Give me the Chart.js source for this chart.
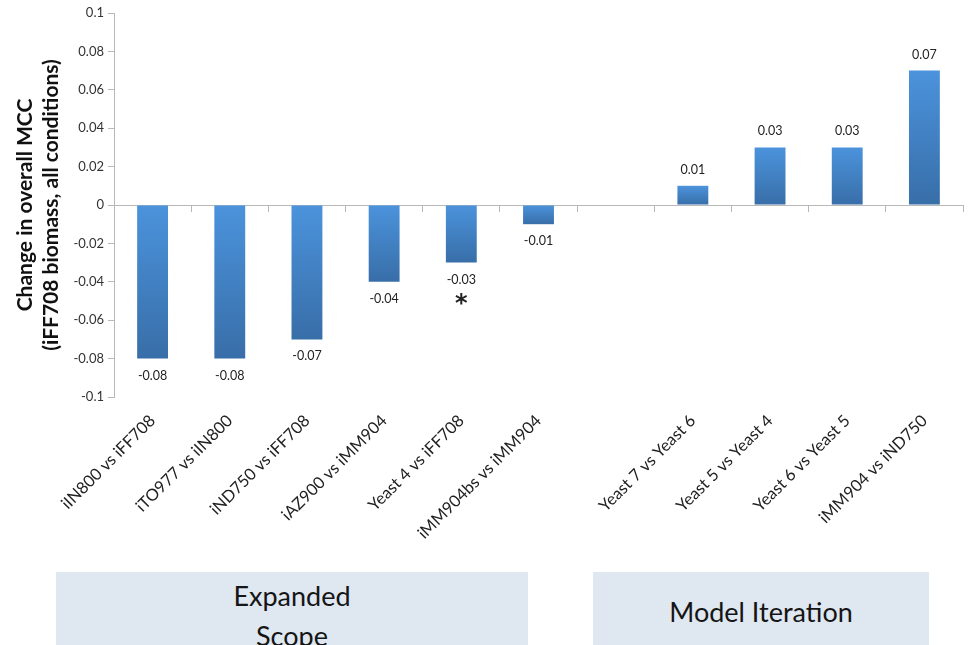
<!DOCTYPE html>
<html>
<head>
<meta charset="utf-8">
<title>Change in overall MCC</title>
<script src="https://cdn.jsdelivr.net/npm/chart.js@4/dist/chart.umd.min.js"></script>
<style>
    body { margin: 0; background: #fff; font-family: Lato, "Open Sans", sans-serif; }
    .wrap { position: relative; width: 968px; height: 645px; }
    .group-box {
        position: absolute;
        background: #dfe7f1;
        color: #151515;
        font-size: 27px;
        text-align: center;
        line-height: 40px;
    }
</style>
</head>
<body>
<div class="wrap">
    <canvas id="mcc-chart"></canvas>
    <div class="group-box" style="left:56px; top:572px; width:472px; height:73px; padding-top:4px; box-sizing:border-box;">Expanded<br>Scope</div>
    <div class="group-box" style="left:593px; top:572px; width:336px; height:73px; line-height:80px;">Model Iteration</div>
</div>
<script>
// Comparisons (empty slot separates the two groups)
const categories = [
    "iIN800 vs iFF708", "iTO977 vs iIN800", "iND750 vs iFF708", "iAZ900 vs iMM904",
    "Yeast 4 vs iFF708", "iMM904bs vs iMM904", "",
    "Yeast 7 vs Yeast 6", "Yeast 5 vs Yeast 4", "Yeast 6 vs Yeast 5", "iMM904 vs iND750"
];
const changeValues = [-0.08, -0.08, -0.07, -0.04, -0.03, -0.01, null, 0.01, 0.03, 0.03, 0.07];
const starredIndex = [4];
const yMin = -0.1;
const yMax = 0.1;
const yStep = 0.02;

function fmt(v) {
    return String(Number(v.toFixed(2)));
}

// value labels + asterisk
const barLabels = {
    id: 'barLabels',
    afterDatasetsDraw(chart) {
        const ctx = chart.ctx;
        const meta = chart.getDatasetMeta(0);
        ctx.save();
        ctx.fillStyle = '#222';
        ctx.textAlign = 'center';
        ctx.textBaseline = 'middle';
        meta.data.forEach((bar, i) => {
            const v = changeValues[i];
            if (v == null) return;
            ctx.font = '12.5px Lato, sans-serif';
            const y = v >= 0 ? bar.y - 16 : bar.y + 17;
            ctx.fillText(fmt(v), bar.x, y);
            if (starredIndex.includes(i)) {
                ctx.font = 'bold 24px "DejaVu Sans", sans-serif';
                ctx.fillText('*', bar.x, bar.y + 42);
            }
        });
        ctx.restore();
    }
};

function barGradient(context) {
    const chart = context.chart;
    const v = context.raw;
    const y = chart.scales.y;
    if (!y || v == null || context.type !== 'data') return '#4589cf';
    const top = y.getPixelForValue(Math.max(v, 0));
    const bottom = y.getPixelForValue(Math.min(v, 0));
    if (!isFinite(top) || !isFinite(bottom) || top === bottom) return '#4589cf';
    const g = chart.ctx.createLinearGradient(0, top, 0, bottom);
    g.addColorStop(0, '#4b93dc');
    g.addColorStop(1, '#386ea8');
    return g;
}

const axisGray = '#b8b8b8';

new Chart(document.getElementById('mcc-chart'), {
    type: 'bar',
    data: {
        labels: categories,
        datasets: [{
            data: changeValues,
            backgroundColor: barGradient,
            borderWidth: 0,
            barPercentage: 0.4,
            categoryPercentage: 1.0,
            xAxisID: 'x'
        }]
    },
    options: {
        responsive: true,
        maintainAspectRatio: false,
        animation: false,
        layout: { padding: { top: 13, right: 5, left: 0, bottom: 0 } },
        plugins: {
            legend: { display: false },
            tooltip: { enabled: false }
        },
        scales: {
            x: {
                type: 'category',
                position: 'bottom',
                offset: true,
                border: { display: false },
                grid: { display: false },
                ticks: {
                    autoSkip: false,
                    minRotation: 45,
                    maxRotation: 45,
                    padding: 6,
                    color: '#222',
                    font: { family: 'Lato', size: 16.5 }
                },
                afterFit(scale) { scale.height = 248; }
            },
            x2: {
                type: 'category',
                position: { y: 0 },
                offset: true,
                border: { display: true, color: axisGray, width: 1 },
                grid: { offset: true, drawOnChartArea: false, drawTicks: true, tickLength: 6, color: axisGray },
                ticks: { display: false }
            },
            y: {
                min: yMin,
                max: yMax,
                border: { display: true, color: axisGray, width: 1 },
                grid: { drawOnChartArea: false, drawTicks: true, tickLength: 6, color: axisGray },
                ticks: {
                    stepSize: yStep,
                    padding: 4,
                    color: '#333',
                    font: { family: 'Lato', size: 13 },
                    callback: (v) => fmt(v)
                },
                title: {
                    display: true,
                    text: ['Change in overall MCC', '(iFF708 biomass, all conditions)'],
                    color: '#111',
                    font: { family: 'Lato', size: 21, weight: 'bold', lineHeight: 1.25 },
                    padding: { top: 12, bottom: 4 }
                },
                afterFit(scale) { scale.width = 114; }
            }
        }
    },
    plugins: [barLabels]
});
</script>
</body>
</html>
